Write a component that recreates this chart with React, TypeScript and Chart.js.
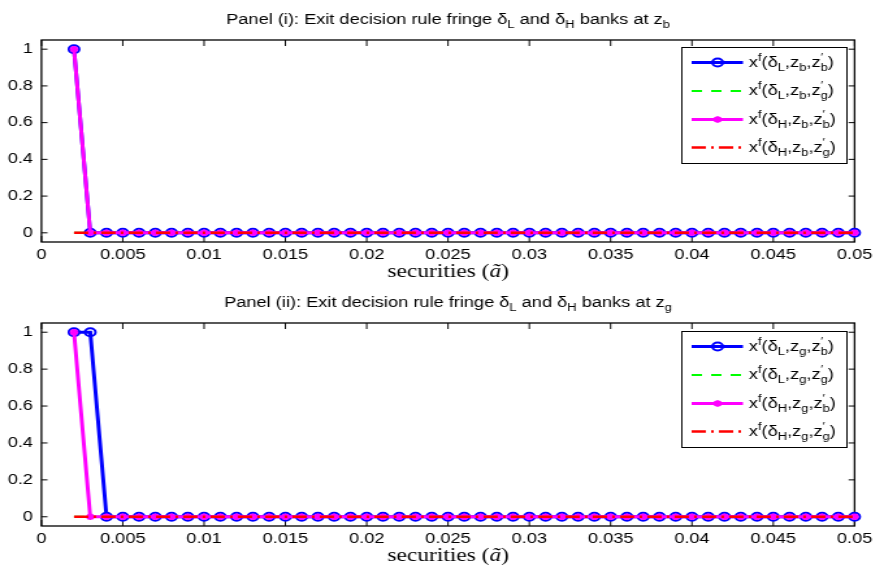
import React, { useEffect, useRef } from 'react';
import { Chart, registerables } from 'chart.js';
Chart.register(...registerables);

// ---------------- data ----------------
const X_VALUES = [
  0.002, 0.003, 0.004, 0.005, 0.006, 0.007, 0.008, 0.009, 0.01,
  0.011, 0.012, 0.013, 0.014, 0.015, 0.016, 0.017, 0.018, 0.019, 0.02,
  0.021, 0.022, 0.023, 0.024, 0.025, 0.026, 0.027, 0.028, 0.029, 0.03,
  0.031, 0.032, 0.033, 0.034, 0.035, 0.036, 0.037, 0.038, 0.039, 0.04,
  0.041, 0.042, 0.043, 0.044, 0.045, 0.046, 0.047, 0.048, 0.049, 0.05,
];
const X_TICKS = [0, 0.005, 0.01, 0.015, 0.02, 0.025, 0.03, 0.035, 0.04, 0.045, 0.05];
const Y_TICKS = [0, 0.2, 0.4, 0.6, 0.8, 1];

// Panel (i): z = z_b
const P1_L_B = [1, 0, 0, 0, 0, 0, 0, 0, 0, 0, 0, 0, 0, 0, 0, 0, 0, 0, 0, 0, 0, 0, 0, 0, 0, 0, 0, 0, 0, 0, 0, 0, 0, 0, 0, 0, 0, 0, 0, 0, 0, 0, 0, 0, 0, 0, 0, 0, 0];
const P1_L_G = [0, 0, 0, 0, 0, 0, 0, 0, 0, 0, 0, 0, 0, 0, 0, 0, 0, 0, 0, 0, 0, 0, 0, 0, 0, 0, 0, 0, 0, 0, 0, 0, 0, 0, 0, 0, 0, 0, 0, 0, 0, 0, 0, 0, 0, 0, 0, 0, 0];
const P1_H_B = [1, 0, 0, 0, 0, 0, 0, 0, 0, 0, 0, 0, 0, 0, 0, 0, 0, 0, 0, 0, 0, 0, 0, 0, 0, 0, 0, 0, 0, 0, 0, 0, 0, 0, 0, 0, 0, 0, 0, 0, 0, 0, 0, 0, 0, 0, 0, 0, 0];
const P1_H_G = [0, 0, 0, 0, 0, 0, 0, 0, 0, 0, 0, 0, 0, 0, 0, 0, 0, 0, 0, 0, 0, 0, 0, 0, 0, 0, 0, 0, 0, 0, 0, 0, 0, 0, 0, 0, 0, 0, 0, 0, 0, 0, 0, 0, 0, 0, 0, 0, 0];

// Panel (ii): z = z_g
const P2_L_B = [1, 1, 0, 0, 0, 0, 0, 0, 0, 0, 0, 0, 0, 0, 0, 0, 0, 0, 0, 0, 0, 0, 0, 0, 0, 0, 0, 0, 0, 0, 0, 0, 0, 0, 0, 0, 0, 0, 0, 0, 0, 0, 0, 0, 0, 0, 0, 0, 0];
const P2_L_G = [0, 0, 0, 0, 0, 0, 0, 0, 0, 0, 0, 0, 0, 0, 0, 0, 0, 0, 0, 0, 0, 0, 0, 0, 0, 0, 0, 0, 0, 0, 0, 0, 0, 0, 0, 0, 0, 0, 0, 0, 0, 0, 0, 0, 0, 0, 0, 0, 0];
const P2_H_B = [1, 0, 0, 0, 0, 0, 0, 0, 0, 0, 0, 0, 0, 0, 0, 0, 0, 0, 0, 0, 0, 0, 0, 0, 0, 0, 0, 0, 0, 0, 0, 0, 0, 0, 0, 0, 0, 0, 0, 0, 0, 0, 0, 0, 0, 0, 0, 0, 0];
const P2_H_G = [0, 0, 0, 0, 0, 0, 0, 0, 0, 0, 0, 0, 0, 0, 0, 0, 0, 0, 0, 0, 0, 0, 0, 0, 0, 0, 0, 0, 0, 0, 0, 0, 0, 0, 0, 0, 0, 0, 0, 0, 0, 0, 0, 0, 0, 0, 0, 0, 0];

const TITLE_PREFIX_I = 'Panel (i): Exit decision rule fringe ';
const TITLE_PREFIX_II = 'Panel (ii): Exit decision rule fringe ';

// ---------------- rendering helpers ----------------
const STRETCH = 1.3; // the reference figure is stretched horizontally
const W = 676;
const SANS = '"Liberation Sans", Arial, Helvetica, sans-serif';
const SERIF = '"Liberation Serif", "Times New Roman", serif';

type Seg = { t?: string; k?: 'sub' | 'sup'; sup?: string; sub?: string; it?: boolean };

function fontOf(size: number, family: string, it?: boolean) {
  return `${it ? 'italic ' : ''}${size}px ${family}`;
}

function measureRich(ctx: CanvasRenderingContext2D, segs: Seg[], size: number, small: number, family: string) {
  let w = 0;
  for (const s of segs) {
    if (s.sup !== undefined && s.sub !== undefined) {
      ctx.font = fontOf(small, family);
      w += Math.max(ctx.measureText(s.sup).width, ctx.measureText(s.sub).width);
    } else {
      ctx.font = fontOf(s.k ? small : size, family, s.it);
      w += ctx.measureText(s.t || '').width;
    }
  }
  return w;
}

function drawRich(
  ctx: CanvasRenderingContext2D, segs: Seg[], x: number, y: number,
  size: number, small: number, family: string, align: 'left' | 'center'
) {
  const w = measureRich(ctx, segs, size, small, family);
  let cx = align === 'center' ? x - w / 2 : x;
  ctx.save();
  ctx.textAlign = 'left';
  ctx.textBaseline = 'alphabetic';
  ctx.fillStyle = '#000';
  const subOff = size * 0.3;
  const supOff = size * 0.42;
  for (const s of segs) {
    if (s.sup !== undefined && s.sub !== undefined) {
      ctx.font = fontOf(small, family);
      ctx.fillText(s.sup, cx, y - supOff);
      ctx.fillText(s.sub, cx, y + subOff);
      cx += Math.max(ctx.measureText(s.sup).width, ctx.measureText(s.sub).width);
    } else if (s.k === 'sub') {
      ctx.font = fontOf(small, family);
      ctx.fillText(s.t || '', cx, y + subOff);
      cx += ctx.measureText(s.t || '').width;
    } else if (s.k === 'sup') {
      ctx.font = fontOf(small, family);
      ctx.fillText(s.t || '', cx, y - supOff);
      cx += ctx.measureText(s.t || '').width;
    } else {
      ctx.font = fontOf(size, family, s.it);
      ctx.fillText(s.t || '', cx, y);
      cx += ctx.measureText(s.t || '').width;
    }
  }
  ctx.restore();
}

function legendLabel(delta: string, z: string, zp: string): Seg[] {
  return [
    { t: 'x' }, { t: 'f', k: 'sup' }, { t: '(δ' }, { t: delta, k: 'sub' },
    { t: ',z' }, { t: z, k: 'sub' }, { t: ',z' }, { sup: '′', sub: zp }, { t: ')' },
  ];
}

function titleSegs(prefix: string, z: string): Seg[] {
  return [
    { t: prefix + 'δ' }, { t: 'L', k: 'sub' }, { t: ' and δ' }, { t: 'H', k: 'sub' },
    { t: ' banks at z' }, { t: z, k: 'sub' },
  ];
}

const XLABEL: Seg[] = [{ t: 'securities (' }, { t: 'ã', it: true }, { t: ')' }];

type Style = {
  color: string; width: number; dash: number[]; point: 'circle' | 'star' | false; radius: number;
};
const STYLES: Style[] = [
  { color: '#0000ff', width: 3, dash: [], point: 'circle', radius: 4 },
  { color: '#00ff00', width: 2, dash: [8, 7], point: false, radius: 0 },
  { color: '#ff00ff', width: 3, dash: [], point: 'star', radius: 3.3 },
  { color: '#ff0000', width: 2.5, dash: [11, 4, 2, 4], point: false, radius: 0 },
];

function makePlugin(title: Seg[], legends: Seg[][], legendTopOff: number) {
  return {
    id: 'matlabDecor',
    beforeDatasetsDraw(chart: any) {
      const { ctx, chartArea: a, scales } = chart;
      ctx.save();
      ctx.strokeStyle = '#000';
      ctx.lineWidth = 1;
      ctx.beginPath();
      for (const v of X_TICKS) {
        const px = scales.x.getPixelForValue(v);
        ctx.moveTo(px, a.bottom);
        ctx.lineTo(px, a.bottom - 6);
        ctx.moveTo(px, a.top);
        ctx.lineTo(px, a.top + 6);
      }
      for (const v of Y_TICKS) {
        const py = scales.y.getPixelForValue(v);
        ctx.moveTo(a.left, py);
        ctx.lineTo(a.left + 4.6, py);
        ctx.moveTo(a.right, py);
        ctx.lineTo(a.right - 4.6, py);
      }
      ctx.stroke();
      ctx.lineWidth = 1.3;
      ctx.strokeRect(a.left, a.top, a.right - a.left, a.bottom - a.top);
      ctx.restore();
    },
    afterDraw(chart: any) {
      const { ctx, chartArea: a } = chart;
      // title
      drawRich(ctx, title, (a.left + a.right) / 2, a.top - 16, 14, 10, SANS, 'center');
      // x axis label
      drawRich(ctx, XLABEL, (a.left + a.right) / 2, a.bottom + 35, 18, 13, SERIF, 'center');
      // legend
      const bx = Math.round(a.right - 133) + 0.5;
      const by = Math.round(a.top + legendTopOff) + 0.5;
      const bw = 127;
      const bh = 116;
      ctx.save();
      ctx.fillStyle = '#fff';
      ctx.fillRect(bx, by, bw, bh);
      ctx.strokeStyle = '#000';
      ctx.lineWidth = 1;
      ctx.strokeRect(bx, by, bw, bh);
      const rows = [15, 43.5, 72, 100];
      legends.forEach((lab, i) => {
        const st = STYLES[i];
        const ry = by + rows[i];
        ctx.save();
        ctx.strokeStyle = st.color;
        ctx.lineWidth = st.width;
        ctx.setLineDash(st.dash);
        ctx.beginPath();
        ctx.moveTo(bx + 7.5, ry);
        ctx.lineTo(bx + 47, ry);
        ctx.stroke();
        ctx.setLineDash([]);
        const mx = bx + 27.5;
        if (st.point === 'circle') {
          ctx.lineWidth = 2;
          ctx.beginPath();
          ctx.arc(mx, ry, st.radius, 0, Math.PI * 2);
          ctx.stroke();
        } else if (st.point === 'star') {
          ctx.lineWidth = 2;
          const r = st.radius;
          const d = r * Math.SQRT1_2;
          ctx.beginPath();
          ctx.moveTo(mx - r, ry); ctx.lineTo(mx + r, ry);
          ctx.moveTo(mx, ry - r); ctx.lineTo(mx, ry + r);
          ctx.moveTo(mx - d, ry - d); ctx.lineTo(mx + d, ry + d);
          ctx.moveTo(mx - d, ry + d); ctx.lineTo(mx + d, ry - d);
          ctx.stroke();
        }
        ctx.restore();
        drawRich(ctx, lab, bx + 51.5, ry + 4, 14, 10, SANS, 'left');
      });
      ctx.restore();
    },
  };
}

type PanelProps = {
  series: number[][];
  title: Seg[];
  legends: Seg[][];
  height: number;
  axisHeight: number;
  legendTopOff: number;
};

function Panel({ series, title, legends, height, axisHeight, legendTopOff }: PanelProps) {
  const ref = useRef<HTMLCanvasElement | null>(null);
  useEffect(() => {
    if (!ref.current) return;
    const datasets = series.map((vals, i) => {
      const st = STYLES[i];
      return {
        label: 'series' + i,
        data: X_VALUES.map((x, j) => ({ x, y: vals[j] })),
        borderColor: st.color,
        borderWidth: st.width,
        borderDash: st.dash,
        backgroundColor: 'rgba(0,0,0,0)',
        pointStyle: st.point || 'circle',
        pointRadius: st.point ? st.radius : 0,
        pointBorderWidth: 2,
        pointBorderColor: st.color,
        pointBackgroundColor: 'rgba(0,0,0,0)',
        tension: 0,
        fill: false,
        clip: false as any,
        order: 4 - i,
      };
    });
    const chart = new Chart(ref.current, {
      type: 'line',
      data: { datasets },
      options: {
        responsive: false,
        animation: false,
        events: [],
        layout: { padding: { top: 40, left: 0, right: 15.2, bottom: 0 } },
        plugins: { legend: { display: false }, tooltip: { enabled: false }, title: { display: false } },
        scales: {
          x: {
            type: 'linear',
            min: 0,
            max: 0.05,
            grid: { display: false, drawTicks: false },
            border: { display: false },
            afterBuildTicks: (s: any) => { s.ticks = X_TICKS.map((v) => ({ value: v })); },
            afterFit: (s: any) => { s.height = axisHeight; },
            ticks: {
              autoSkip: false,
              maxRotation: 0,
              padding: 5,
              color: '#000',
              font: { family: SANS, size: 14 },
              callback: (v: any) => String(v),
            },
          },
          y: {
            type: 'linear',
            min: -0.05,
            max: 1.05,
            grid: { display: false, drawTicks: false },
            border: { display: false },
            afterBuildTicks: (s: any) => { s.ticks = Y_TICKS.map((v) => ({ value: v })); },
            afterFit: (s: any) => { s.width = 31.9; },
            ticks: {
              autoSkip: false,
              padding: 6.5,
              color: '#000',
              font: { family: SANS, size: 14 },
              callback: (v: any) => String(v),
            },
          },
        },
      },
      plugins: [makePlugin(title, legends, legendTopOff)],
    } as any);
    return () => chart.destroy();
  }, []);
  return (
    <canvas
      ref={ref}
      width={W}
      height={height}
      style={{ display: 'block', transform: `scaleX(${STRETCH})`, transformOrigin: '0 0' }}
    />
  );
}

export default function App() {
  return (
    <div style={{ position: 'fixed', left: 0, top: 0, width: 879, height: 565, background: '#fff', overflow: 'hidden' }}>
      <div style={{ position: 'absolute', left: 0, top: 0 }}>
        <Panel
          series={[P1_L_B, P1_L_G, P1_H_B, P1_H_G]}
          title={titleSegs(TITLE_PREFIX_I, 'b')}
          legends={[legendLabel('L', 'b', 'b'), legendLabel('L', 'b', 'g'), legendLabel('H', 'b', 'b'), legendLabel('H', 'b', 'g')]}
          height={283}
          axisHeight={41}
          legendTopOff={6.5}
        />
      </div>
      <div style={{ position: 'absolute', left: 0, top: 283 }}>
        <Panel
          series={[P2_L_B, P2_L_G, P2_H_B, P2_H_G]}
          title={titleSegs(TITLE_PREFIX_II, 'g')}
          legends={[legendLabel('L', 'g', 'b'), legendLabel('L', 'g', 'g'), legendLabel('H', 'g', 'b'), legendLabel('H', 'g', 'g')]}
          height={282}
          axisHeight={39}
          legendTopOff={7.5}
        />
      </div>
    </div>
  );
}
